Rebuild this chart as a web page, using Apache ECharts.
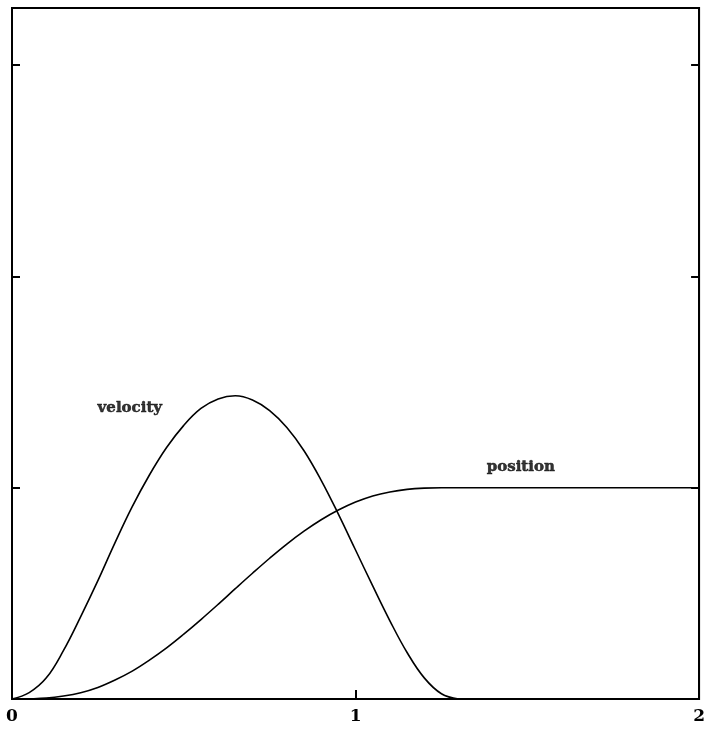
<!DOCTYPE html>
<html>
<head>
<meta charset="utf-8">
<style>
  html, body { margin: 0; padding: 0; background: #fff; }
  #chart { width: 708px; height: 729px; }
</style>
<script src="https://cdn.jsdelivr.net/npm/echarts@6/dist/echarts.min.js"></script>
</head>
<body>
<div id="chart"></div>
<script>
// time samples (s)
const timeVel = [0, 0.05, 0.10, 0.15, 0.20, 0.25, 0.30, 0.35, 0.40, 0.45, 0.50, 0.55, 0.60,
                 0.65, 0.70, 0.75, 0.80, 0.85, 0.90, 0.95, 1.00, 1.05, 1.10, 1.15, 1.20, 1.25, 1.30];
// velocity profile: smooth bell, peak near t = 0.64
const velocity = [0, 0.03, 0.10, 0.23, 0.39, 0.56, 0.74, 0.91, 1.06, 1.19, 1.295, 1.375, 1.42,
                  1.435, 1.415, 1.365, 1.285, 1.175, 1.035, 0.875, 0.705, 0.535, 0.37, 0.22, 0.10, 0.025, 0];

const timePos = [0, 0.05, 0.10, 0.15, 0.20, 0.25, 0.30, 0.35, 0.40, 0.45, 0.50, 0.55, 0.60,
                 0.65, 0.70, 0.75, 0.80, 0.85, 0.90, 0.95, 1.00, 1.05, 1.10, 1.15, 1.20, 1.25, 1.30, 2.0];
// position rises to 1 and holds there
const position = [0, 0.001, 0.004, 0.014, 0.03, 0.055, 0.09, 0.132, 0.184, 0.242, 0.307, 0.376, 0.448,
                  0.522, 0.595, 0.666, 0.733, 0.794, 0.848, 0.894, 0.932, 0.961, 0.98, 0.992, 0.998, 1.0, 1.0, 1.0];

const xTicks = [0, 1, 2];
const curveNames = ['velocity', 'position'];
// where each curve's name is written (t, value)
const nameAnchors = [[0.343, 1.375], [1.481, 1.097]];

const chart = echarts.init(document.getElementById('chart'), null, { renderer: 'canvas' });

const pairs = (xs, ys) => xs.map((x, i) => [x, ys[i]]);

const axisText = { fontFamily: 'DejaVu Serif', fontWeight: 'bold', fontSize: 17, color: '#000' };

chart.setOption({
  animation: false,
  backgroundColor: '#fff',
  grid: {
    left: 12, right: 7, top: 8, bottom: 30,
    show: true, borderColor: '#000', borderWidth: 2, backgroundColor: 'transparent'
  },
  xAxis: {
    type: 'value', min: 0, max: 2, interval: 1,
    axisLine: { show: true, lineStyle: { color: '#000', width: 2 } },
    axisTick: { show: true, inside: true, length: 9, lineStyle: { color: '#000', width: 2 } },
    axisLabel: Object.assign({
      margin: 9,
      formatter: v => xTicks.includes(v) ? String(v) : ''
    }, axisText),
    splitLine: { show: false }
  },
  yAxis: [
    {
      type: 'value', min: 0, max: 3.27, interval: 1, position: 'left',
      axisLine: { show: true, lineStyle: { color: '#000', width: 2 } },
      axisTick: { show: true, inside: true, length: 8, lineStyle: { color: '#000', width: 2 } },
      axisLabel: { show: false },
      splitLine: { show: false }
    },
    {
      type: 'value', min: 0, max: 3.27, interval: 1, position: 'right',
      axisLine: { show: true, lineStyle: { color: '#000', width: 2 } },
      axisTick: { show: true, inside: true, length: 8, lineStyle: { color: '#000', width: 2 } },
      axisLabel: { show: false },
      splitLine: { show: false }
    }
  ],
  series: [
    {
      name: curveNames[0], type: 'line', data: pairs(timeVel, velocity),
      smooth: 0.4, showSymbol: false,
      lineStyle: { color: '#000', width: 1.6 }
    },
    {
      name: curveNames[1], type: 'line', data: pairs(timePos, position),
      smooth: 0.4, showSymbol: false,
      lineStyle: { color: '#000', width: 1.6 }
    },
    {
      name: 'names', type: 'scatter', symbolSize: 0, silent: true,
      data: curveNames.map((n, i) => ({ name: n, value: nameAnchors[i] })),
      label: {
        show: true, position: 'inside', formatter: p => p.name,
        fontFamily: 'DejaVu Serif', fontWeight: 'bold', fontSize: 15, color: '#000',
        textBorderColor: '#000', textBorderWidth: 0.5
      }
    }
  ]
});
</script>
</body>
</html>
